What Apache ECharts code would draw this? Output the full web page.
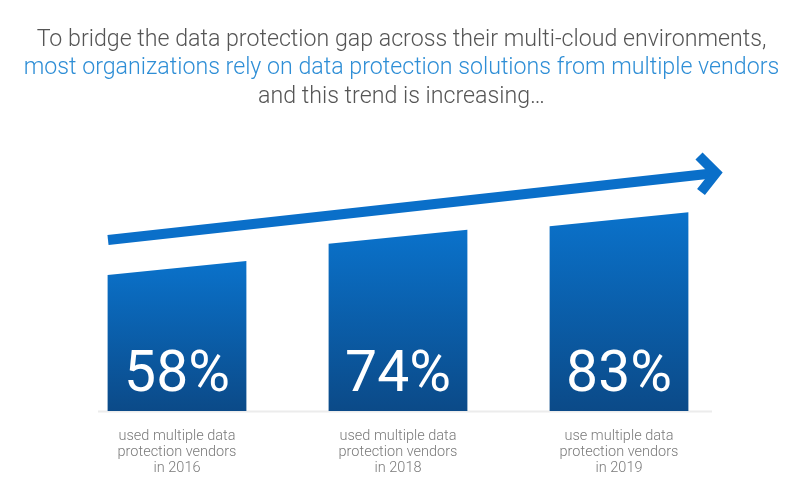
<!DOCTYPE html>
<html>
<head>
<meta charset="utf-8">
<script src="https://cdn.jsdelivr.net/npm/echarts@6/dist/echarts.min.js"></script>
<style>html,body{margin:0;padding:0;background:#fff}#main{width:803px;height:500px}</style>
</head>
<body>
<div id="main"></div>
<script>
const titleLines = [
  "To bridge the data protection gap across their multi-cloud environments,",
  "most organizations rely on data protection solutions from multiple vendors",
  "and this trend is increasing…"
];
const categories = [
  "used multiple data\nprotection vendors\nin 2016",
  "used multiple data\nprotection vendors\nin 2018",
  "use multiple data\nprotection vendors\nin 2019"
];
const values = [58, 74, 83];

const chart = echarts.init(document.getElementById('main'), null, {renderer: 'canvas'});
const FONT = 'Roboto, "Open Sans", sans-serif';
const grad = new echarts.graphic.LinearGradient(0, 0, 0, 1, [
  {offset: 0, color: '#0a72cb'},
  {offset: 1, color: '#0b4a88'}
]);

chart.setOption({
  backgroundColor: '#ffffff',
  animation: false,
  title: [
    {text: titleLines[0], left: 'center', top: 24, textStyle: {color: '#555555', fontSize: 23.2, fontWeight: 300, fontFamily: FONT}},
    {text: titleLines[1], left: 'center', top: 52, textStyle: {color: '#2e8ed6', fontSize: 23.2, fontWeight: 300, fontFamily: FONT}},
    {text: titleLines[2], left: 'center', top: 81, textStyle: {color: '#555555', fontSize: 23.2, fontWeight: 300, fontFamily: FONT}}
  ],
  grid: {left: 66.5, right: 73.5, top: 150, bottom: 89},
  xAxis: {
    type: 'category',
    data: categories,
    axisLine: {show: false},
    axisTick: {show: false},
    axisLabel: {color: '#7a7a7a', fontSize: 14.5, lineHeight: 16, margin: 17, fontFamily: FONT, fontWeight: 300, interval: 0}
  },
  yAxis: {type: 'value', min: -19, max: 115, show: false, splitLine: {show: false}},
  graphic: [
    {type: 'line', shape: {x1: 98, y1: 411.5, x2: 712, y2: 411.5}, style: {stroke: '#ececec', lineWidth: 2}, z: 1},
    {type: 'line', shape: {x1: 108, y1: 240, x2: 716, y2: 173}, style: {stroke: '#0a6fc9', lineWidth: 10, lineCap: 'butt'}, z: 5},
    {type: 'polyline', shape: {points: [[699, 156], [716, 173], [701, 192]]}, style: {stroke: '#0a6fc9', lineWidth: 10, lineJoin: 'miter', lineCap: 'butt', fill: null}, z: 5}
  ],
  series: [{
    type: 'custom',
    data: values,
    z: 3,
    renderItem: function (params, api) {
      const idx = api.value(0);
      const v = api.value(1);
      const top = api.coord([idx, v]);
      const w = api.size([1, 0])[0] * 0.628;
      const bottomY = api.coord([idx, -19])[1];
      const x0 = top[0] - w / 2, x1 = top[0] + w / 2;
      const slant = 14;
      return {
        type: 'group',
        children: [
          {type: 'polygon', shape: {points: [[x0, top[1] + slant], [x1, top[1]], [x1, bottomY], [x0, bottomY]]}, style: {fill: grad}},
          {type: 'text', style: {text: v + '%', x: top[0], y: 377, align: 'center', verticalAlign: 'middle', fill: '#ffffff', fontSize: 57, fontFamily: FONT, fontWeight: 400}}
        ]
      };
    },
    encode: {x: 0, y: 1}
  }]
});
</script>
</body>
</html>
